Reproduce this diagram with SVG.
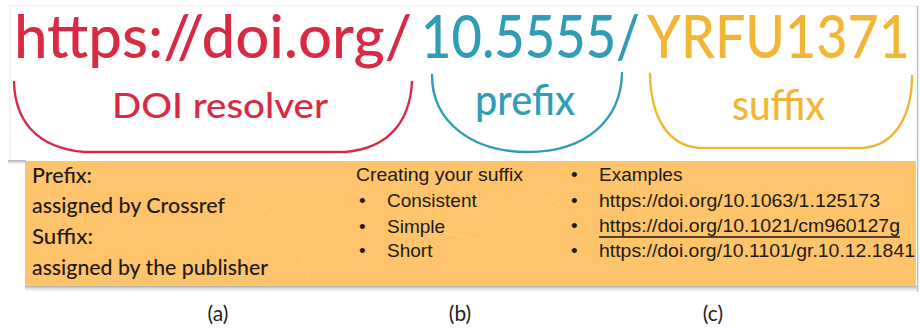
<svg xmlns="http://www.w3.org/2000/svg" width="920" height="328" viewBox="0 0 920 328">
  <defs>
    <linearGradient id="shB" x1="0" y1="0" x2="0" y2="1">
      <stop offset="0" stop-color="#8a8a8a" stop-opacity="0.7"/>
      <stop offset="1" stop-color="#ffffff" stop-opacity="0"/>
    </linearGradient>
    <linearGradient id="shR" x1="0" y1="0" x2="1" y2="0">
      <stop offset="0" stop-color="#8a8a8a" stop-opacity="0.8"/>
      <stop offset="1" stop-color="#ffffff" stop-opacity="0"/>
    </linearGradient>
  </defs>
  <style>
    .big { font-family: Lato, "Open Sans", "DejaVu Sans", sans-serif; font-size: 60px; font-weight: 500; }
    .lbl { font-family: Lato, "Open Sans", "DejaVu Sans", sans-serif; font-weight: 500; }
    .red { fill: #d92a44; }
    .teal { fill: #2f9db6; }
    .yel { fill: #f2b636; }
    .brace { fill: none; stroke-width: 2.4; stroke-linecap: round; stroke-linejoin: round; }
    .cal { font-family: Lato, "Open Sans", "DejaVu Sans", sans-serif; font-size: 21px; font-weight: 500; fill: #1e1a14; }
    .ar { font-family: "Liberation Sans", Arial, sans-serif; font-size: 19px; fill: #1e1a14; }
    .cap { font-family: Lato, "Open Sans", "DejaVu Sans", sans-serif; font-size: 21px; fill: #222; }
  </style>
  <rect x="0" y="0" width="920" height="328" fill="#ffffff"/>

  <g id="card">
    <rect x="10" y="6" width="906" height="156" fill="#ffffff" stroke="#eeeeee" stroke-width="1"/>
    <rect x="8" y="160" width="18" height="6" fill="url(#shB)"/>
    <rect x="917" y="6" width="3" height="286" fill="url(#shR)"/>
  </g>

  <g id="url">
    <text class="big red" x="14" y="58" textLength="398" lengthAdjust="spacingAndGlyphs">https://doi.org/</text>
    <text class="big teal" x="421" y="58" textLength="219" lengthAdjust="spacingAndGlyphs">10.5555/</text>
    <text class="big yel" x="647" y="58" textLength="263" lengthAdjust="spacingAndGlyphs">YRFU1371</text>
  </g>

  <g id="connectors">
    <path class="brace" stroke="#d92a44" d="M14,82 C15,118 34,148 85,152 L345,152 C392,148 410,118 412,82"/>
    <path class="brace" stroke="#2f9db6" d="M432,75 C432,122 472,152 528,152 C586,152 621,120 622,73"/>
    <path class="brace" stroke="#f2b636" d="M650,74 C651,118 668,146 700,148 L862,148 C896,146 912,114 912,76"/>
  </g>

  <g id="resolver">
    <text class="lbl red" x="112" y="118" font-size="35" textLength="216" lengthAdjust="spacingAndGlyphs">DOI resolver</text>
  </g>
  <g id="prefix">
    <text class="lbl teal" x="475" y="115" font-size="43" textLength="100" lengthAdjust="spacingAndGlyphs">prefix</text>
  </g>
  <g id="suffix">
    <text class="lbl yel" x="732" y="120" font-size="43" textLength="93" lengthAdjust="spacingAndGlyphs">suffix</text>
  </g>

  <g id="band">
    <rect x="25" y="286" width="892" height="7" fill="url(#shB)"/>
    <rect x="25" y="161" width="891" height="125" fill="#fdc46c"/>
    <path d="M330,170 C370,210 420,230 480,240 M470,170 C500,185 540,190 560,205 M220,165 C250,200 300,230 310,280" fill="none" stroke="#fdd08a" stroke-width="1" opacity="0.7"/>
  </g>

  <g id="col-a">
    <text class="cal" x="32" y="183" textLength="60" lengthAdjust="spacingAndGlyphs">Prefix:</text>
    <text class="cal" x="32" y="213" textLength="193" lengthAdjust="spacingAndGlyphs">assigned by Crossref</text>
    <text class="cal" x="32" y="244" textLength="61" lengthAdjust="spacingAndGlyphs">Suffix:</text>
    <text class="cal" x="32" y="275" textLength="236" lengthAdjust="spacingAndGlyphs">assigned by the publisher</text>
  </g>

  <g id="col-b">
    <text class="ar" x="356" y="181" textLength="167" lengthAdjust="spacingAndGlyphs">Creating your suffix</text>
    <text class="ar" x="359" y="207">•</text>
    <text class="ar" x="387" y="207">Consistent</text>
    <text class="ar" x="359" y="233">•</text>
    <text class="ar" x="387" y="233">Simple</text>
    <text class="ar" x="359" y="257">•</text>
    <text class="ar" x="387" y="257">Short</text>
  </g>

  <g id="col-c">
    <text class="ar" x="571" y="181">•</text>
    <text class="ar" x="599" y="181">Examples</text>
    <text class="ar" x="571" y="207">•</text>
    <text class="ar" x="599" y="207" textLength="281" lengthAdjust="spacingAndGlyphs">https://doi.org/10.1063/1.125173</text>
    <text class="ar" x="571" y="232">•</text>
    <text class="ar" x="599" y="232" textLength="301" lengthAdjust="spacingAndGlyphs">https://doi.org/10.1021/cm960127g</text>
    <line x1="599" y1="237" x2="900" y2="237" stroke="#1e1a14" stroke-width="1.4"/>
    <text class="ar" x="571" y="257">•</text>
    <text class="ar" x="599" y="257" textLength="316" lengthAdjust="spacingAndGlyphs">https://doi.org/10.1101/gr.10.12.1841</text>
  </g>

  <g id="captions">
    <text class="cap" x="218" y="321" text-anchor="middle">(a)</text>
    <text class="cap" x="460" y="321" text-anchor="middle">(b)</text>
    <text class="cap" x="713" y="321" text-anchor="middle">(c)</text>
  </g>
</svg>
